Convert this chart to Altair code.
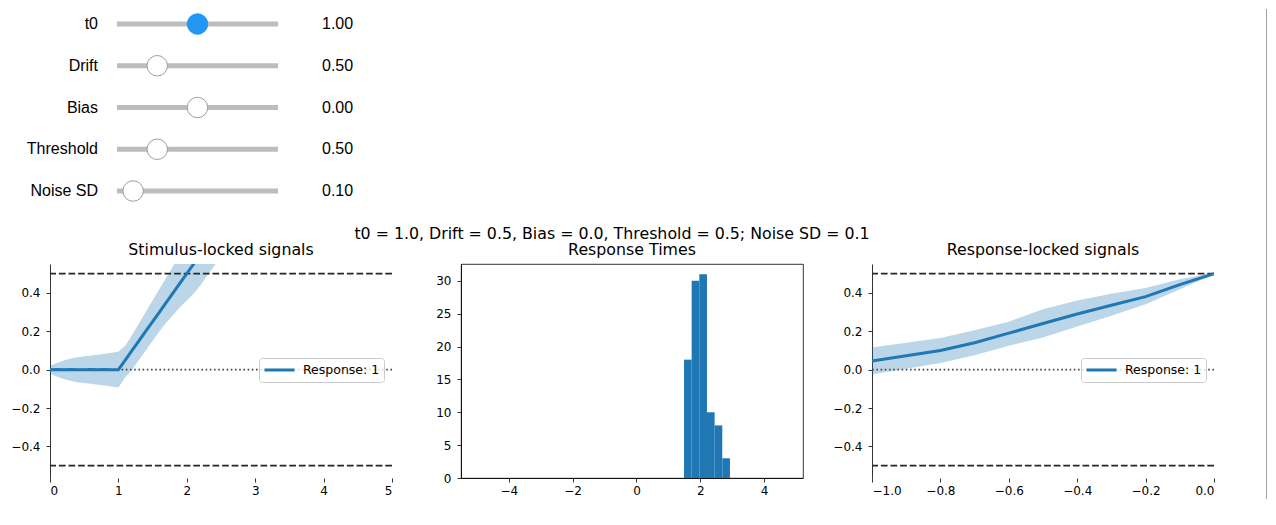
import altair as alt
import pandas as pd

# ---------------- data ----------------
slider_names = ["t0", "Drift", "Bias", "Threshold", "Noise SD"]
slider_values = [1.0, 0.5, 0.0, 0.5, 0.1]
slider_mins = [0.0, 0.0, -1.0, 0.0, 0.0]
slider_maxs = [2.0, 2.0, 1.0, 2.0, 1.0]
slider_active = [True, False, False, False, False]

stim_t = [0.0, 0.1, 0.2, 0.3, 0.4, 0.5, 0.6, 0.7, 0.8, 0.9, 1.0, 1.1, 1.2, 1.3,
          1.4, 1.5, 1.6, 1.7, 1.8, 1.9, 2.0, 2.1, 2.2, 2.3, 2.4, 2.5]
stim_mean = [0.000, 0.001, -0.001, 0.001, -0.001, 0.000, 0.001, -0.001, 0.001,
             0.000, 0.000, 0.050, 0.100, 0.150, 0.200, 0.250, 0.300, 0.350,
             0.400, 0.450, 0.500, 0.550, 0.600, 0.650, 0.700, 0.750]
stim_upper = [0.020, 0.035, 0.048, 0.058, 0.065, 0.070, 0.074, 0.078, 0.083,
              0.088, 0.093, 0.125, 0.180, 0.240, 0.300, 0.360, 0.420, 0.480,
              0.540, 0.600, 0.660, 0.720, 0.780, 0.840, 0.900, 0.960]
stim_lower = [-0.020, -0.035, -0.048, -0.058, -0.065, -0.070, -0.074, -0.078,
              -0.083, -0.088, -0.093, -0.040, 0.000, 0.050, 0.100, 0.150, 0.200,
              0.245, 0.285, 0.325, 0.360, 0.395, 0.440, 0.490, 0.540, 0.590]

resp_t = [-1.0, -0.9, -0.8, -0.7, -0.6, -0.5, -0.4, -0.3, -0.2, -0.1, 0.0]
resp_mean = [0.045, 0.072, 0.100, 0.140, 0.190, 0.240, 0.290, 0.335, 0.380, 0.443, 0.500]
resp_upper = [0.115, 0.140, 0.165, 0.205, 0.250, 0.315, 0.360, 0.395, 0.425, 0.470, 0.505]
resp_lower = [-0.025, 0.005, 0.035, 0.075, 0.125, 0.168, 0.225, 0.280, 0.340, 0.418, 0.495]

hist_left = [1.49, 1.73, 1.97, 2.21, 2.45, 2.69]
hist_right = [1.73, 1.97, 2.21, 2.45, 2.69, 2.93]
hist_counts = [18, 30, 31, 10, 8, 3]

bound_levels = [0.5, -0.5]
series_label = "Response: 1"

BLUE = "#1f77b4"
FONT = "DejaVu Sans"
WFONT = "Liberation Sans"

# ---------------- sliders ----------------
sl = pd.DataFrame({
    "name": slider_names,
    "value": slider_values,
    "vmin": slider_mins,
    "vmax": slider_maxs,
    "row": list(range(len(slider_names))),
})
sl["frac"] = (sl["value"] - sl["vmin"]) / (sl["vmax"] - sl["vmin"])
sl["label"] = sl["value"].map(lambda v: f"{v:.2f}")
sl["lo"] = 0.0
sl["hi"] = 1.0
sl["fill"] = ["#2196f3" if a else "#ffffff" for a in slider_active]
sl["edge"] = ["#2196f3" if a else "#9e9e9e" for a in slider_active]

sx = alt.Scale(domain=[0, 1], range=[67, 228])
sy = alt.Scale(domain=[0, 4], range=[15, 182])
sbase = alt.Chart(sl)
track = sbase.mark_rule(strokeWidth=5, color="#bdbdbd", strokeCap="butt").encode(
    x=alt.X("lo:Q", scale=sx, axis=None), x2="hi:Q",
    y=alt.Y("row:Q", scale=sy, axis=None))
handle = sbase.mark_point(shape="circle", filled=True, size=420, opacity=1,
                          strokeWidth=1).encode(
    x=alt.X("frac:Q", scale=sx, axis=None),
    y=alt.Y("row:Q", scale=sy, axis=None),
    fill=alt.Fill("fill:N", scale=None),
    stroke=alt.Stroke("edge:N", scale=None))
names = sbase.mark_text(align="right", baseline="middle", font=WFONT,
                        fontSize=16, color="black").encode(
    x=alt.value(48), y=alt.Y("row:Q", scale=sy, axis=None), text="name:N")
vals = sbase.mark_text(align="left", baseline="middle", font=WFONT,
                       fontSize=16, color="black").encode(
    x=alt.value(272), y=alt.Y("row:Q", scale=sy, axis=None), text="label:N")

sup_text = (f"t0 = {slider_values[0]:.1f}, Drift = {slider_values[1]:.1f}, "
            f"Bias = {slider_values[2]:.1f}, Threshold = {slider_values[3]:.1f}; "
            f"Noise SD = {slider_values[4]:.1f}")
sup = alt.Chart(pd.DataFrame({"txt": [sup_text]})).mark_text(
    align="center", baseline="alphabetic", font=FONT, fontSize=15.8, color="black"
).encode(x=alt.value(562), y=alt.value(230), text="txt:N")

edge_line = alt.Chart(pd.DataFrame({"a": [0]})).mark_rule(
    color="#a0a0a0", strokeWidth=1).encode(
    x=alt.value(1216.5), y=alt.value(0), y2=alt.value(490))
anchor = alt.Chart(pd.DataFrame({"a": [0]})).mark_rule(
    opacity=0, strokeWidth=1).encode(
    x=alt.value(-42), y=alt.value(0), y2=alt.value(2))

sliders = alt.layer(track, handle, names, vals, sup, edge_line, anchor).properties(
    width=1163, height=200)

# ---------------- shared pieces ----------------
legend_spec = alt.Legend(
    orient="none", legendX=209, legendY=94, title=None,
    symbolType="stroke", symbolSize=900, symbolStrokeWidth=3,
    labelFont=FONT, labelFontSize=12.5, labelColor="black", labelOffset=7,
    padding=4, strokeColor="#cccccc", fillColor="rgba(255,255,255,0.8)",
    cornerRadius=3, clipHeight=16)

ysig = alt.Scale(domain=[-0.564, 0.55], nice=False, zero=False)
ysig_axis = alt.Axis(values=[-0.4, -0.2, 0.0, 0.2, 0.4], format=".1f", title=None)
thr = pd.DataFrame({"y": bound_levels})
zero_df = pd.DataFrame({"y": [0.0]})


def signal_panel(df, xdom, xvals, xfmt, title):
    xs = alt.Scale(domain=xdom, nice=False, zero=False)
    xax = alt.Axis(values=xvals, format=xfmt, domain=False, title=None)
    X = alt.X("t:Q", scale=xs, axis=xax)
    band = alt.Chart(df).mark_area(color=BLUE, opacity=0.3, clip=True).encode(
        x=X, y=alt.Y("lo:Q", scale=ysig, axis=ysig_axis), y2="hi:Q")
    dash = alt.Chart(thr).mark_rule(strokeDash=[6.7, 2.9], strokeWidth=1.8,
                                    color="#262626").encode(
        y=alt.Y("y:Q", scale=ysig, axis=ysig_axis))
    dot = alt.Chart(zero_df).mark_rule(strokeDash=[1.6, 2.6], strokeWidth=1.6,
                                       color="#444444").encode(
        y=alt.Y("y:Q", scale=ysig, axis=ysig_axis))
    line = alt.Chart(df).mark_line(strokeWidth=3, clip=True).encode(
        x=X, y=alt.Y("mean:Q", scale=ysig, axis=ysig_axis),
        color=alt.Color("series:N", scale=alt.Scale(range=[BLUE]), legend=legend_spec))
    return alt.layer(band, dash, dot, line).properties(
        width=342, height=214, title=title)


stim = pd.DataFrame({"t": stim_t, "mean": stim_mean, "lo": stim_lower,
                     "hi": stim_upper, "series": series_label})
resp = pd.DataFrame({"t": resp_t, "mean": resp_mean, "lo": resp_lower,
                     "hi": resp_upper, "series": series_label})

p1 = signal_panel(stim, [0, 5], [0, 1, 2, 3, 4, 5], "d", "Stimulus-locked signals")
p3 = signal_panel(resp, [-1, 0], [-1.0, -0.8, -0.6, -0.4, -0.2, 0.0], ".1f",
                  "Response-locked signals")

hist = pd.DataFrame({"left": hist_left, "right": hist_right,
                     "count": hist_counts, "base": [0] * len(hist_counts)})
p2 = alt.Chart(hist).mark_rect(color=BLUE).encode(
    x=alt.X("left:Q", scale=alt.Scale(domain=[-5.5, 5.22], nice=False, zero=False),
            axis=alt.Axis(values=[-4, -2, 0, 2, 4], format="d", title=None)),
    x2="right:Q",
    y=alt.Y("count:Q", scale=alt.Scale(domain=[0, 32.55], nice=False),
            axis=alt.Axis(values=[0, 5, 10, 15, 20, 25, 30], title=None)),
    y2="base:Q",
).properties(width=342, height=214, title="Response Times",
             view=alt.ViewBackground(stroke="black", strokeWidth=0.8))

panels = alt.hconcat(p1, p2, p3, spacing=69, bounds="flush").resolve_scale(
    color="independent").resolve_legend(color="independent")

chart = alt.vconcat(sliders, panels, spacing=55, bounds="flush").properties(
    padding={"left": 0, "top": 0, "right": 0, "bottom": 0}
).configure_view(stroke=None).configure_axis(
    labelFont=FONT, labelFontSize=12, labelColor="black",
    tickColor="black", domainColor="black", tickSize=4, tickWidth=0.8,
    domainWidth=0.8, grid=False
).configure_axisY(labelPadding=6).configure_axisX(labelPadding=3).configure_title(
    font=FONT, fontSize=15.8, fontWeight="normal", color="black", offset=5,
    anchor="middle")

chart.save("out.html", embed_options={"renderer": "svg", "actions": False})
